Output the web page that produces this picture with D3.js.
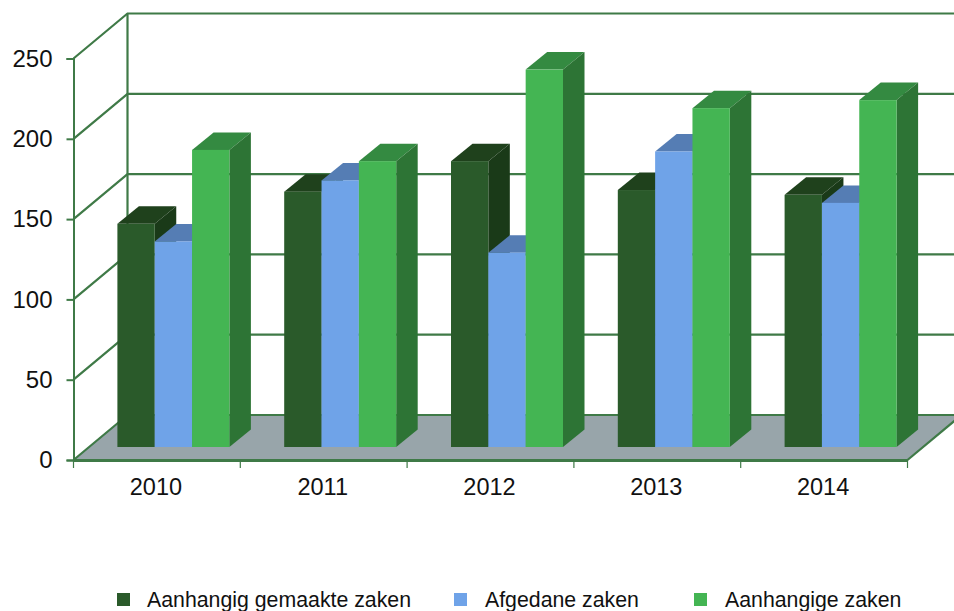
<!DOCTYPE html>
<html>
<head>
<meta charset="utf-8">
<script src="https://cdn.jsdelivr.net/npm/d3@7"></script>
<style>
  html, body { margin: 0; padding: 0; background: #fff; }
  svg { display: block; }
  text { font-family: "Liberation Sans", Arial, sans-serif; fill: #111; }
</style>
</head>
<body>
<div id="container"></div>
<script>
const years = ["2010", "2011", "2012", "2013", "2014"];
const seriesNames = ["Aanhangig gemaakte zaken", "Afgedane zaken", "Aanhangige zaken"];
const gemaakt = [139, 159, 178, 160, 157];
const afgedaan = [128, 166, 121, 184, 152];
const aanhangig = [185, 178, 235, 211, 216];
const yTicks = [0, 50, 100, 150, 200, 250];

let w = 954;
let h = 611;

// front plane of the box
let x0 = d3.scaleBand().domain(years).range([73.5, 907.5]);
let y = d3.scaleLinear().domain([0, 250]).range([460, 58.5]);
let x1 = d3.scaleBand().domain(seriesNames).range([0, 112]);

// 3d offsets
let depthX = 54, depthY = -45;       // whole box
let barShiftX = 16.5, barShiftY = -13; // bar front plane, relative to box front
let barDepthX = 21.5, barDepthY = -17.5;

const gridColor = "#3f7a47";
const faces = [
  {front: "#2a5a2a", side: "#1a3a18", top: "#1f411c"},
  {front: "#6fa3e8", side: "#4f77ad", top: "#557db4"},
  {front: "#44b553", side: "#2d7435", top: "#348a41"}
];
const values = [gemaakt, afgedaan, aanhangig];

let svg = d3.select("#container").append("svg")
  .attr("width", w)
  .attr("height", h);

let poly = pts => pts.map(p => p.join(",")).join(" ");

// floor
svg.append("polygon")
  .attr("points", poly([
    [x0.range()[0], y(0)],
    [x0.range()[0] + depthX, y(0) + depthY],
    [x0.range()[1] + depthX, y(0) + depthY],
    [x0.range()[1], y(0)]
  ]))
  .attr("fill", "#98a5aa");

// grid: diagonal on the left wall, horizontal on the back wall
let grid = svg.append("g")
  .attr("fill", "none")
  .attr("stroke", gridColor)
  .attr("stroke-width", 2.2);

let line = d3.line();
yTicks.forEach(t => {
  grid.append("path").attr("d", line([
    [x0.range()[0], y(t)],
    [x0.range()[0] + depthX, y(t) + depthY],
    [x0.range()[1] + depthX, y(t) + depthY]
  ]));
});
grid.append("path").attr("d", line([
  [x0.range()[0] + depthX, y(0) + depthY],
  [x0.range()[0] + depthX, y(250) + depthY]
]));
grid.append("path").attr("d", line([
  [x0.range()[1], y(0)],
  [x0.range()[1] + depthX, y(0) + depthY]
]));

// bars
years.forEach((year, i) => {
  let left = x0(year) + (x0.bandwidth() - 112) / 2 + barShiftX;
  seriesNames.forEach((name, j) => {
    let xa = left + x1(name);
    let xb = xa + x1.bandwidth();
    let yb = y(0) + barShiftY;
    let yt = y(values[j][i]) + barShiftY;
    let g = svg.append("g").attr("class", "bar");
    g.append("polygon")
      .attr("points", poly([[xa, yt], [xa + barDepthX, yt + barDepthY], [xb + barDepthX, yt + barDepthY], [xb, yt]]))
      .attr("fill", faces[j].top);
    g.append("polygon")
      .attr("points", poly([[xb, yt], [xb + barDepthX, yt + barDepthY], [xb + barDepthX, yb + barDepthY], [xb, yb]]))
      .attr("fill", faces[j].side);
    g.append("rect")
      .attr("x", xa)
      .attr("y", yt)
      .attr("width", xb - xa)
      .attr("height", yb - yt)
      .attr("fill", faces[j].front);
  });
});

// axes
let yAxis = svg.append("g")
  .attr("transform", `translate(${x0.range()[0]},0)`)
  .call(d3.axisLeft(y).tickValues(yTicks).tickSize(7).tickPadding(14));
let xAxis = svg.append("g")
  .attr("transform", `translate(0,${y(0)})`)
  .call(d3.axisBottom(x0).tickSize(0).tickPadding(18));

xAxis.selectAll(".xtick")
  .data(d3.range(years.length + 1))
  .join("line")
  .attr("class", "xtick")
  .attr("x1", d => x0.range()[0] + d * x0.step())
  .attr("x2", d => x0.range()[0] + d * x0.step())
  .attr("y1", 0)
  .attr("y2", 8)
  .attr("stroke", gridColor)
  .attr("stroke-width", 1.2);

yAxis.selectAll("path, line").attr("stroke", gridColor).attr("stroke-width", 2);
xAxis.select("path").attr("stroke", gridColor).attr("stroke-width", 3);
yAxis.selectAll("text").style("font-size", "24px").attr("font-family", null);
xAxis.selectAll(".tick text").style("font-size", "23.5px").attr("dx", -1);

// legend
const legendSwatchX = [117, 454, 694];
const legendTextX = [147, 485, 725];
let legend = svg.append("g");
seriesNames.forEach((name, j) => {
  legend.append("rect")
    .attr("x", legendSwatchX[j])
    .attr("y", 593)
    .attr("width", 13)
    .attr("height", 13)
    .attr("fill", faces[j].front);
  legend.append("text")
    .attr("x", legendTextX[j])
    .attr("y", 607)
    .style("font-size", "21.3px")
    .text(name);
});
</script>
</body>
</html>
